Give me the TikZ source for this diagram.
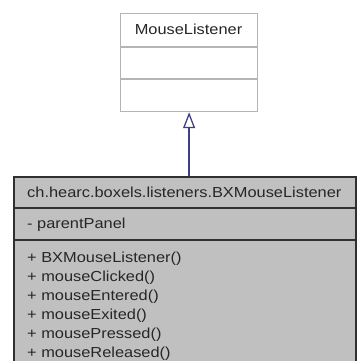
\documentclass[tikz,border=0pt]{standalone}
\usepackage{fontspec}
\setmainfont{Liberation Sans}[FakeStretch=1.13]
\usetikzlibrary{arrows.meta}
\definecolor{boxgray}{HTML}{C0C0C0}
\definecolor{lightline}{HTML}{B4B4B4}
\definecolor{darkline}{HTML}{303030}
\definecolor{arrowblue}{HTML}{404088}
\tikzset{
  umltext/.style={inner sep=0pt, font=\fontsize{14.5pt}{17pt}\selectfont, text=black!85},
  topbox/.style={draw=lightline, line width=1.2pt, fill=white, inner sep=0pt},
  botbox/.style={draw=darkline, line width=1.5pt, fill=boxgray, inner sep=0pt},
  realize/.style={draw=arrowblue, line width=1.3pt, -{Triangle[open, length=16pt, width=12pt, line width=1.3pt]}},
}
\begin{document}
\begin{tikzpicture}[x=1pt,y=-1pt]
\useasboundingbox (0,0) rectangle (357,361);
\clip (0,0) rectangle (357,361);
\fill[white] (0,0) rectangle (357,361);
% interface box
\node[topbox, minimum width=137pt, minimum height=98pt, anchor=north west] (ml) at (120,13) {};
\draw[lightline, line width=1.2pt] (120,47) -- (257,47);
\draw[lightline, line width=1.2pt] (120,79) -- (257,79);
\node[umltext, anchor=base] (mlname) at (188.5,35) {MouseListener};
% class box
\node[botbox, minimum width=342pt, minimum height=220pt, anchor=north west] (bx) at (13,176) {};
\draw[darkline, line width=1.5pt] (13,208) -- (355,208);
\draw[darkline, line width=1.5pt] (13,240) -- (355,240);
\node[umltext, anchor=base west] (bxname) at (27,197) {ch.hearc.boxels.listeners.BXMouseListener};
\node[umltext, anchor=base west] (attr) at (27,228) {- parentPanel};
\node[umltext, anchor=base west] (m1) at (27,262) {+ BXMouseListener()};
\node[umltext, anchor=base west] (m2) at (27,281) {+ mouseClicked()};
\node[umltext, anchor=base west] (m3) at (27,300) {+ mouseEntered()};
\node[umltext, anchor=base west] (m4) at (27,319) {+ mouseExited()};
\node[umltext, anchor=base west] (m5) at (27,338) {+ mousePressed()};
\node[umltext, anchor=base west] (m6) at (27,357) {+ mouseReleased()};
% realization arrow
\draw[realize] (bx.north -| ml.south) -- (ml.south);
\end{tikzpicture}
\end{document}
